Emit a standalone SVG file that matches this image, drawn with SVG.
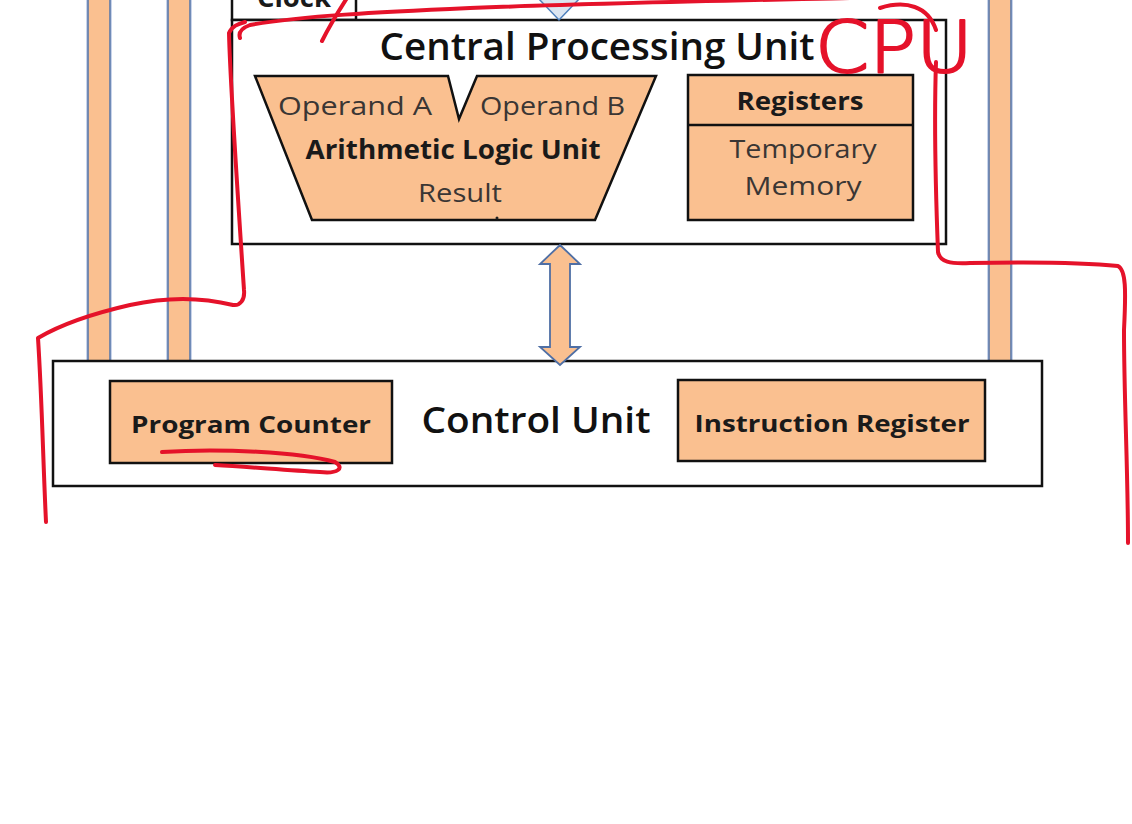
<svg xmlns="http://www.w3.org/2000/svg" width="1132" height="824" viewBox="0 0 1132 824">
  <defs>
    <style>
      .box { fill: #ffffff; stroke: #111111; stroke-width: 2.5; }
      .unit { fill: #fac090; stroke: #111111; stroke-width: 2.5; }
      .bus { fill: #fac090; stroke: #5a78aa; stroke-width: 1.6; }
      .bus-halo { fill: none; stroke: #c9d4ea; stroke-width: 4; }
      .title { font-family: "Open Sans", "Liberation Sans", sans-serif; font-weight: 600; fill: #111111; }
      .label { font-family: "Open Sans", "Liberation Sans", sans-serif; fill: #3a3634; }
      .bold { font-family: "Open Sans", "Liberation Sans", sans-serif; font-weight: bold; fill: #1a1a1a; }
      .ink { fill: none; stroke: #e5122a; stroke-width: 4; stroke-linecap: round; stroke-linejoin: round; }
    </style>
  </defs>
  <rect width="1132" height="824" fill="#ffffff"/>

  <!-- system buses (vertical) -->
  <g id="buses">
    <rect class="bus-halo" x="88" y="-5" width="22" height="366"/>
    <rect class="bus" x="88" y="-5" width="22" height="366"/>
    <rect class="bus-halo" x="168" y="-5" width="22" height="366"/>
    <rect class="bus" x="168" y="-5" width="22" height="366"/>
    <rect class="bus-halo" x="989" y="-5" width="22" height="366"/>
    <rect class="bus" x="989" y="-5" width="22" height="366"/>
  </g>

  <!-- clock -->
  <g id="clock">
    <rect class="box" x="232" y="-20" width="124" height="40"/>
    <text class="bold" x="294" y="7" font-size="26" text-anchor="middle" textLength="74" lengthAdjust="spacingAndGlyphs">Clock</text>
  </g>

  <!-- central processing unit -->
  <g id="cpu">
    <rect class="box" x="232" y="20" width="714" height="224"/>
    <text class="title" x="597" y="60" font-size="38" text-anchor="middle" textLength="435" lengthAdjust="spacingAndGlyphs">Central Processing Unit</text>
  </g>

  <g id="alu">
    <path class="unit" d="M255,76 L448,76 L459,119 L477,76 L656,76 L595,220 L312,220 Z"/>
    <text class="label" x="278" y="115" font-size="25" textLength="154" lengthAdjust="spacingAndGlyphs">Operand  A</text>
    <text class="label" x="480" y="115" font-size="25" textLength="145" lengthAdjust="spacingAndGlyphs">Operand B</text>
    <text class="bold" x="453" y="159" font-size="26" text-anchor="middle" textLength="295" lengthAdjust="spacingAndGlyphs">Arithmetic Logic Unit</text>
    <text class="label" x="460" y="202" font-size="25" text-anchor="middle" textLength="84" lengthAdjust="spacingAndGlyphs">Result</text>
    <circle cx="497" cy="218" r="1.5" fill="#222"/>
  </g>

  <g id="registers">
    <rect class="unit" x="688" y="75" width="225" height="145"/>
    <line x1="688" y1="125" x2="913" y2="125" stroke="#111" stroke-width="2.5"/>
    <text class="bold" x="800" y="110" font-size="25" text-anchor="middle" textLength="127" lengthAdjust="spacingAndGlyphs">Registers</text>
    <text class="label" x="803" y="158" font-size="25" text-anchor="middle" textLength="147" lengthAdjust="spacingAndGlyphs">Temporary</text>
    <text class="label" x="803" y="195" font-size="25" text-anchor="middle" textLength="117" lengthAdjust="spacingAndGlyphs">Memory</text>
  </g>

  <!-- control unit -->
  <g id="control-unit">
    <rect class="box" x="53" y="361" width="989" height="125"/>
    <text class="title" x="536" y="433" font-size="36" text-anchor="middle" textLength="229" lengthAdjust="spacingAndGlyphs">Control Unit</text>
  </g>

  <g id="program-counter">
    <rect class="unit" x="110" y="381" width="282" height="82"/>
    <text class="bold" x="251" y="433" font-size="23" text-anchor="middle" textLength="240" lengthAdjust="spacingAndGlyphs">Program Counter</text>
  </g>

  <g id="instruction-register">
    <rect class="unit" x="678" y="380" width="307" height="81"/>
    <text class="bold" x="832" y="432" font-size="23" text-anchor="middle" textLength="275" lengthAdjust="spacingAndGlyphs">Instruction Register</text>
  </g>

  <!-- connectors -->
  <g id="connectors">
    <path d="M538,-2 L580,-2 L559,20 Z" fill="#dbe5f1" stroke="#4f81bd" stroke-width="1.5"/>
    <path d="M560,245 L580,264 L570,264 L570,347 L580,347 L560,365 L540,347 L550,347 L550,264 L540,264 Z" fill="#fac090" stroke="#4f6fa5" stroke-width="1.8" stroke-linejoin="miter"/>
  </g>

  <!-- red pen annotations -->
  <g id="annotations">
    <path class="ink" d="M322,41 C330,25 338,12 347,-2"/>
    <path class="ink" d="M240,38 C238,32 242,28 250,25 C300,16 380,12 470,8 C600,3 760,0 850,-2"/>
    <path class="ink" d="M229,33 C232,26 238,24 245,22 M229,33 C230,80 238,200 244,290 C245,300 240,306 233,305 C205,298 170,296 130,305 C95,313 60,325 38,338 L38,338 C42,400 43,460 46,522"/>
    <path class="ink" d="M162,452 C220,448 300,452 335,462 C345,468 338,474 320,472 C285,470 250,467 215,465"/>
    <path class="ink" d="M936,62 C934,120 936,200 938,252 C940,262 950,264 970,263 C1020,262 1080,262 1118,266 C1126,270 1126,290 1124,330 C1124,400 1128,470 1128,543"/>
    <path class="ink" d="M880,8 C906,0 928,6 936,30"/>
    <text x="815" y="72" font-family="DejaVu Sans, sans-serif" font-weight="200" font-size="72" fill="#e5122a" stroke="#e5122a" stroke-width="2.2" stroke-linejoin="round" textLength="158" lengthAdjust="spacingAndGlyphs">CPU</text>
  </g>
</svg>
